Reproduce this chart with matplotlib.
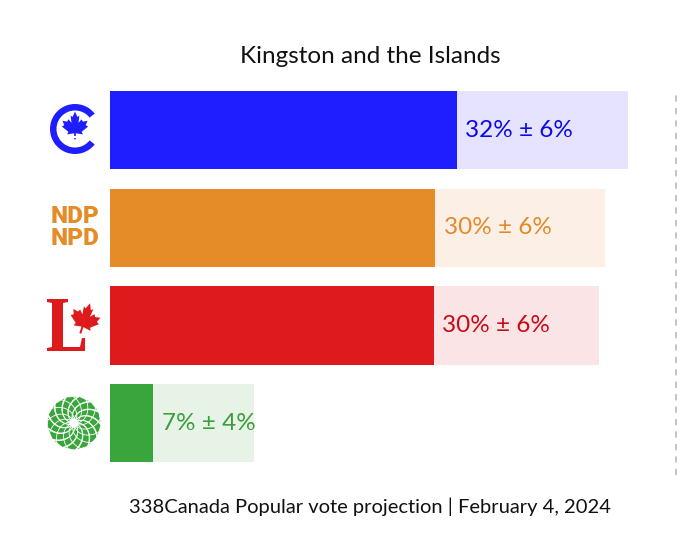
import numpy as np
import matplotlib
matplotlib.use("Agg")
import matplotlib.pyplot as plt
from matplotlib.patches import Polygon, Circle, Wedge, PathPatch
from matplotlib.path import Path

parties = ["CPC", "NDP", "LPC", "GPC"]
low = [25.6, 24.0, 23.9, 3.2]
high = [38.2, 36.5, 36.1, 10.6]
labels = ["32% ± 6%", "30% ± 6%", "30% ± 6%", "7% ± 4%"]
dark = ["#1E1EFF", "#E58B27", "#DF1A1C", "#3BA53D"]
light = ["#E5E3FF", "#FCF0E6", "#FBE4E6", "#E8F3E8"]
textc = ["#0A0AE6", "#E08A2A", "#C90A14", "#3A9E3A"]
title = "Kingston and the Islands"
footer = "338Canada Popular vote projection | February 4, 2024"

W, H = 680, 535
plt.rcParams["font.family"] = ["Lato", "DejaVu Sans"]
fig = plt.figure(figsize=(W / 100, H / 100), dpi=100)

L, R, T, B = 110, 676, 90, 475
ax = fig.add_axes([L / W, 1 - B / H, (R - L) / W, (B - T) / H])
ax.set_xlim(0, (R - L) / 13.55)
ax.set_ylim(3.53, -0.41)
ypos = np.arange(len(parties))
ax.barh(ypos, high, height=0.8, color=light, linewidth=0)
ax.barh(ypos, low, height=0.8, color=dark, linewidth=0)
for y, lo, s, c in zip(ypos, low, labels, textc):
    ax.annotate(s, (lo, y), xytext=(6, 0), textcoords="offset points",
                va="center", ha="left", fontsize=17.5, color=c)
ax.axvline(ax.get_xlim()[1], color="#C4C4C4", lw=1.4, ls=(0, (3.2, 3.2)), clip_on=False)
ax.axis("off")

fig.text(370 / W, 1 - 57 / H, title, ha="center", va="center", fontsize=17.5, color="#111111")
fig.text(370 / W, 1 - 507 / H, footer, ha="center", va="center", fontsize=14.5, color="#111111")

# Logos, drawn in an overlay that uses pixel coordinates
lg = fig.add_axes([0, 0, 1, 1], zorder=5)
lg.set_xlim(0, W)
lg.set_ylim(H, 0)
lg.axis("off")

LEAF = np.array([
    (0, -1.0), (.17, -.62), (.30, -.72), (.24, -.22), (.46, -.46), (.54, -.30), (.86, -.36),
    (.74, -.06), (.90, .04), (.46, .40), (.54, .58), (.06, .50), (.06, .92), (-.06, .92),
    (-.06, .50), (-.54, .58), (-.46, .40), (-.90, .04), (-.74, -.06), (-.86, -.36),
    (-.54, -.30), (-.46, -.46), (-.24, -.22), (-.30, -.72), (-.17, -.62)])

def leaf(cx, cy, r, color, rot=0):
    a = np.radians(rot)
    rm = np.array([[np.cos(a), -np.sin(a)], [np.sin(a), np.cos(a)]])
    lg.add_patch(Polygon(LEAF @ rm.T * r + [cx, cy], closed=True, fc=color, ec="none"))

# Conservative
b = dark[0]
lg.add_patch(Wedge((75, 129), 25, 38, 322, width=6.5, fc=b, ec="none"))
leaf(75, 126, 14.5, b)
th = np.linspace(np.radians(215), np.radians(325), 30)
lg.plot(75 + 13 * np.cos(th), 146 + 9 * np.sin(th), color="white", lw=1.6)

# NDP
for s, yy in (("NDP", 216.5), ("NPD", 238.5)):
    lg.text(74.5, yy, s, ha="center", va="center", family="Roboto", weight="black",
            fontsize=17.5, color=dark[1])

# Liberal
r = dark[2]
Lshape = [(47, 299), (68, 299), (68, 302), (63, 303), (63, 347), (80, 347), (82, 338), (85, 338),
          (85, 351), (47, 351), (47, 348), (52, 347), (52, 303), (47, 302)]
lg.add_patch(Polygon(Lshape, closed=True, fc=r, ec="none"))
leaf(85, 319, 16.5, r, rot=18)

# Green flower
g = dark[3]
cx, cy, n = 74, 423, 13
for i in range(n):
    a0 = 2 * np.pi * i / n
    rr = np.linspace(4.5, 27, 14)
    tw = np.linspace(0, 1.05, 14)
    a1 = a0 + tw
    a2 = a0 + tw + 2 * np.pi / n * 0.9
    xs = np.r_[cx + rr * np.cos(a1), cx + rr[::-1] * np.cos(a2[::-1])]
    ys = np.r_[cy + rr * np.sin(a1), cy + rr[::-1] * np.sin(a2[::-1])]
    lg.add_patch(Polygon(np.c_[xs, ys], closed=True, fc=g, ec="white", lw=0.5))
    lg.plot(cx + rr * np.cos(a0 + 0.4 - tw), cy + rr * np.sin(a0 + 0.4 - tw), color="white", lw=0.6)

fig.savefig("out.png", dpi=100)
